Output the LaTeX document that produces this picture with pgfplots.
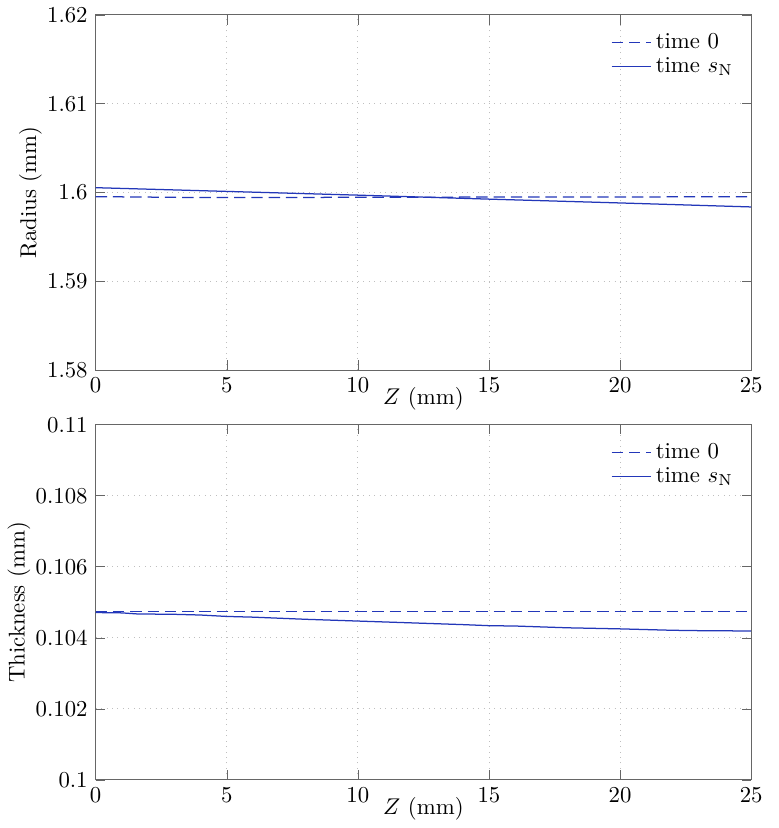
\documentclass[border=0pt]{standalone}
\usepackage{pgfplots}
\pgfplotsset{compat=1.18}

\definecolor{lineblue}{RGB}{35,55,185}

\pgfplotsset{
  every axis/.append style={
    scale only axis,
    width=288pt, height=156pt,
    xmin=0, xmax=25,
    xtick={0,5,...,25},
    axis line style={gray!80!black},
    tick style={gray!80!black},
    tick align=inside,
    grid=major,
    grid style={dotted, gray!50},
    xlabel={$Z$ (mm)},
    xlabel style={yshift=9pt},
    ylabel style={yshift=-4.5pt},
    tick label style={font=\normalsize},
    label style={font=\normalsize},
    scaled ticks=false,
    legend style={draw=none, fill=none, font=\normalsize, at={(0.99,0.975)}, anchor=north east, row sep=-1.5pt},
    legend cell align=left,
  },
}
\tikzset{mydash/.style={dash pattern=on 5pt off 2.6pt}}

\begin{document}
\begin{tikzpicture}
\begin{axis}[
    name=top,
    ymin=1.58, ymax=1.62,
    ytick={1.58,1.59,1.6,1.61,1.62},
    ylabel={Radius (mm)},
]
\addplot[color=lineblue, mydash, line width=0.55pt] coordinates {(0,1.59953) (2,1.59948) (4,1.59942) (6,1.59943) (9,1.59945) (12,1.59947) (15,1.59948) (18,1.59949) (21,1.59950) (25,1.59953)};
\addlegendentry{time 0}
\addplot[color=lineblue, line width=0.55pt] coordinates {(0,1.60054) (5,1.60012) (10,1.59970) (15,1.59925) (20,1.59882) (25,1.59837)};
\addlegendentry{time $s_{\mathrm{N}}$}
\end{axis}

\begin{axis}[
    at={(0,-180pt)},
    ymin=0.1, ymax=0.11,
    ytick={0.1,0.102,0.104,0.106,0.108,0.11},
    yticklabel style={/pgf/number format/fixed, /pgf/number format/precision=3},
    ylabel={Thickness (mm)},
]
\addplot[color=lineblue, mydash, line width=0.55pt] coordinates {(0,0.10473) (25,0.10473)};
\addlegendentry{time 0}
\addplot[color=lineblue, line width=0.55pt] coordinates {(0,0.10471) (1,0.10470) (1.6,0.10467) (3,0.10466) (4,0.10464) (5,0.10460) (6,0.10458) (7,0.10455) (8,0.10452) (10,0.10447) (12,0.10442) (14,0.10437) (15,0.10434) (16,0.10433) (18,0.10428) (20,0.10425) (22,0.10421) (23,0.10420) (25,0.10419)};
\addlegendentry{time $s_{\mathrm{N}}$}
\end{axis}
% extra right margin, as in the reference
\path (288pt,0) rectangle (300pt,1pt);
\end{tikzpicture}
\end{document}
